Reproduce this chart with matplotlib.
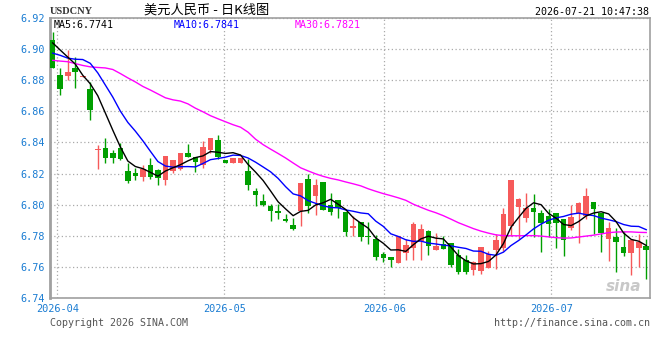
import numpy as np
import pandas as pd
import matplotlib
matplotlib.use("Agg")
import matplotlib.pyplot as plt

# ---------------- data ----------------
opens = [6.9058, 6.8834, 6.8829, 6.8880, 6.8822, 6.8744, 6.8352, 6.8367, 6.8329, 6.8367,
         6.8214, 6.8201, 6.8177, 6.8254, 6.8220, 6.8158, 6.8217, 6.8231, 6.8329, 6.8307,
         6.8254, 6.8350, 6.8418, 6.8284, 6.8267, 6.8265, 6.8217, 6.8086, 6.8022, 6.7990,
         6.7960, 6.7909, 6.7868, 6.7960, 6.8162, 6.8056, 6.8145, 6.7996, 6.8028, 6.7953,
         6.7849, 6.7886, 6.7797, 6.7779, 6.7683, 6.7662, 6.7627, 6.7689, 6.7719, 6.7768,
         6.7830, 6.7708, 6.7745, 6.7753, 6.7676, 6.7644, 6.7582, 6.7576, 6.7596, 6.7710,
         6.7719, 6.7863, 6.7988, 6.7913, 6.7981, 6.7945, 6.7924, 6.7945, 6.7911, 6.7847,
         6.7945, 6.7928, 6.8020, 6.7949, 6.7779, 6.7790, 6.7726, 6.7689, 6.7723, 6.7732]
highs = [6.9110, 6.8880, 6.8994, 6.8951, 6.8830, 6.8791, 6.8382, 6.8429, 6.8354, 6.8397,
         6.8269, 6.8237, 6.8252, 6.8299, 6.8231, 6.8316, 6.8290, 6.8333, 6.8392, 6.8307,
         6.8407, 6.8429, 6.8450, 6.8287, 6.8300, 6.8297, 6.8295, 6.8107, 6.8067, 6.8007,
         6.8003, 6.7939, 6.7913, 6.8137, 6.8194, 6.8162, 6.8145, 6.8077, 6.8028, 6.7953,
         6.7928, 6.7886, 6.7886, 6.7806, 6.7698, 6.7662, 6.7796, 6.7779, 6.7886, 6.7875,
         6.7840, 6.7817, 6.7800, 6.7753, 6.7715, 6.7676, 6.7640, 6.7726, 6.7700, 6.7810,
         6.7981, 6.8156, 6.8045, 6.8073, 6.8067, 6.7966, 6.7975, 6.7945, 6.7911, 6.7996,
         6.8017, 6.8109, 6.8020, 6.7949, 6.7886, 6.7853, 6.7832, 6.7774, 6.7810, 6.7779]
lows = [6.8880, 6.8706, 6.8802, 6.8753, 6.8820, 6.8546, 6.8228, 6.8265, 6.8265, 6.8284,
        6.8141, 6.8158, 6.8151, 6.8162, 6.8126, 6.8126, 6.8201, 6.8222, 6.8305, 6.8207,
        6.8233, 6.8329, 6.8295, 6.8265, 6.8265, 6.8265, 6.8096, 6.7990, 6.7990, 6.7896,
        6.7907, 6.7886, 6.7838, 6.7863, 6.7945, 6.7932, 6.7966, 6.7932, 6.7917, 6.7796,
        6.7800, 6.7768, 6.7747, 6.7646, 6.7634, 6.7602, 6.7627, 6.7646, 6.7646, 6.7646,
        6.7676, 6.7708, 6.7715, 6.7597, 6.7555, 6.7553, 6.7549, 6.7555, 6.7596, 6.7587,
        6.7704, 6.7800, 6.7779, 6.7886, 6.7790, 6.7698, 6.7790, 6.7721, 6.7672, 6.7838,
        6.7753, 6.7907, 6.7811, 6.7694, 6.7640, 6.7570, 6.7668, 6.7545, 6.7602, 6.7519]
closes = [6.8880, 6.8746, 6.8851, 6.8855, 6.8828, 6.8606, 6.8361, 6.8299, 6.8299, 6.8292,
          6.8151, 6.8185, 6.8231, 6.8180, 6.8169, 6.8316, 6.8290, 6.8329, 6.8305, 6.8273,
          6.8371, 6.8429, 6.8307, 6.8267, 6.8297, 6.8297, 6.8126, 6.8060, 6.7998, 6.7960,
          6.7949, 6.7896, 6.7843, 6.8137, 6.7992, 6.8124, 6.7966, 6.7953, 6.7977, 6.7825,
          6.7862, 6.7790, 6.7790, 6.7662, 6.7655, 6.7646, 6.7796, 6.7740, 6.7875, 6.7843,
          6.7732, 6.7734, 6.7715, 6.7614, 6.7565, 6.7570, 6.7630, 6.7726, 6.7683, 6.7774,
          6.7939, 6.8156, 6.8035, 6.7977, 6.7953, 6.7879, 6.7875, 6.7881, 6.7774, 6.7918,
          6.8009, 6.8056, 6.7975, 6.7815, 6.7847, 6.7758, 6.7689, 6.7774, 6.7758, 6.7710]
# closes of the 9 sessions before the window (estimated from the MA lines)
prior_closes = [6.8886, 6.9031, 6.8925, 6.8848, 6.8850, 6.8976, 6.9076, 6.9080, 6.9188]
# MA30 line
ma30 = [6.8928, 6.8923, 6.8919, 6.8907, 6.8895, 6.8886, 6.8882, 6.8879, 6.8869, 6.8843,
        6.8815, 6.8789, 6.8760, 6.8737, 6.8712, 6.8687, 6.8674, 6.8666, 6.8648, 6.8620,
        6.8597, 6.8572, 6.8552, 6.8533, 6.8514, 6.8498, 6.8466, 6.8421, 6.8386, 6.8357,
        6.8329, 6.8300, 6.8268, 6.8237, 6.8217, 6.8198, 6.8182, 6.8169, 6.8159, 6.8146,
        6.8134, 6.8121, 6.8102, 6.8086, 6.8071, 6.8058, 6.8044, 6.8028, 6.8003, 6.7983,
        6.7964, 6.7948, 6.7929, 6.7907, 6.7884, 6.7865, 6.7846, 6.7830, 6.7817, 6.7806,
        6.7801, 6.7800, 6.7800, 6.7801, 6.7801, 6.7798, 6.7793, 6.7788, 6.7785, 6.7786,
        6.7792, 6.7798, 6.7804, 6.7812, 6.7820, 6.7824, 6.7825, 6.7825, 6.7822, 6.7821]
month_labels = ["2026-04", "2026-05", "2026-06", "2026-07"]
month_tick_pos = [0.6, 22.85, 44.15, 66.35]
y_ticks = [6.74, 6.76, 6.78, 6.80, 6.82, 6.84, 6.86, 6.88, 6.90, 6.92]
title = "美元人民币 - 日K线图"
symbol = "USDCNY"
stamp = "2026-07-21 10:47:38"
ma_labels = ["MA5:6.7741", "MA10:6.7841", "MA30:6.7821"]

# ---------------- derived ----------------
n = len(closes)
x = np.arange(n)
allc = pd.Series(prior_closes + closes)
ma5 = allc.rolling(5).mean().to_numpy()[len(prior_closes):]
ma10 = allc.rolling(10).mean().to_numpy()[len(prior_closes):]

RED = "#f65a5a"
GREEN = "#009f00"
BLUE_TXT = "#1a7cd2"
mono = "DejaVu Sans Mono"

fig = plt.figure(figsize=(6.6, 3.6), dpi=100)
fig.patch.set_facecolor("white")
ax = fig.add_axes([50 / 660, 62 / 360, 600 / 660, 280 / 360])

ax.set_xlim(-0.36, 79.5)
ax.set_ylim(6.74, 6.92)

# grid
ax.set_yticks(y_ticks)
ax.set_yticklabels([f"{v:.2f}" for v in y_ticks], family=mono, fontsize=7.3, color=BLUE_TXT)
ax.set_xticks(month_tick_pos)
ax.set_xticklabels(month_labels, family=mono, fontsize=7.4, color=BLUE_TXT)
ax.tick_params(axis="both", length=0)
ax.tick_params(axis="y", pad=4)
ax.tick_params(axis="x", pad=4)
ax.grid(True, linestyle=(0, (1, 2)), color="#aaaaaa", linewidth=0.9)
ax.set_axisbelow(True)
for s in ["top", "right", "bottom"]:
    ax.spines[s].set_color("#a0a0a0")
    ax.spines[s].set_linewidth(1.2)
ax.spines["left"].set_color("#a0a0a0")
ax.spines["left"].set_linewidth(2.0)

# candles
o = np.array(opens); h = np.array(highs); l = np.array(lows); c = np.array(closes)
up = c >= o
cols = np.where(up, RED, GREEN)
ax.vlines(x, l, h, colors=cols, linewidth=1.0, zorder=3)
body_bot = np.minimum(o, c)
body_h = np.maximum(np.abs(c - o), 0.0006)
ax.bar(x, body_h, bottom=body_bot, width=0.74, color=cols, linewidth=0, zorder=4)

# moving averages
ax.plot(x, ma30, color="#ff00ff", linewidth=1.0, zorder=5)
ax.plot(x, ma10, color="#0000ff", linewidth=1.0, zorder=5)
ax.plot(x, ma5, color="#000000", linewidth=1.0, zorder=6)

# watermark
ax.text(0.985, 0.015, "sina", transform=ax.transAxes, ha="right", va="bottom",
        fontsize=11, fontweight="bold", style="italic", color="#c8c8c8", family="DejaVu Sans",
        zorder=2)

# header texts
fig.text(50 / 660, 1 - 12 / 360, symbol, ha="left", va="center", fontsize=7.5,
         family="Liberation Serif", fontweight="bold", color="#333333")
fig.text(207 / 660, 1 - 10.5 / 360, title, ha="center", va="center", fontsize=9.5,
         family=["Noto Sans CJK SC", "DejaVu Sans"], color="#000000")
fig.text(649 / 660, 1 - 12 / 360, stamp, ha="right", va="center", fontsize=7.2,
         family=mono, color="#000000")

# MA legend
ma_cols = ["#000000", "#0000ff", "#ff00ff"]
ma_x = [54, 174, 295]
for lab, col, px in zip(ma_labels, ma_cols, ma_x):
    fig.text(px / 660, 1 - 24.5 / 360, lab, ha="left", va="center", fontsize=7.2,
             family=mono, color=col)

# footer
fig.text(50 / 660, 1 - 323.5 / 360, "Copyright 2026 SINA.COM", ha="left", va="center",
         fontsize=7.2, family=mono, color="#555555")
fig.text(650 / 660, 1 - 323.5 / 360, "http://finance.sina.com.cn", ha="right", va="center",
         fontsize=7.2, family=mono, color="#555555")

fig.savefig("out.png", dpi=100, facecolor="white")
